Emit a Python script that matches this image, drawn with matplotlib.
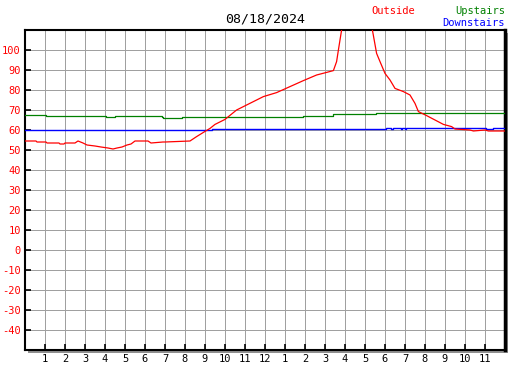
import matplotlib.pyplot as plt
from matplotlib.patches import Rectangle

# hours since midnight, temperature in F
outside_h = [0.0, 0.55, 0.6, 1.05, 1.1, 1.7, 1.75, 1.95, 2.0, 2.5, 2.65, 2.9, 3.1, 3.5, 3.8, 4.15, 4.4, 4.6,
             4.85, 5.1, 5.3, 5.5, 5.6, 6.15, 6.3, 6.9, 7.0, 8.25, 8.58, 8.92, 9.25, 9.5, 10.0, 10.58,
             11.08, 11.92, 12.58, 13.25, 13.92, 14.58, 15.08, 15.42, 15.58, 15.67, 15.83, 16.6, 17.37,
             17.58, 17.75, 18.0, 18.25, 18.5, 18.92, 19.25, 19.5, 19.67, 20.08, 20.5, 20.92, 21.33,
             21.5, 22.25, 22.42, 23.0, 23.17, 23.9, 24.0]
outside_t = [54.5, 54.5, 54.0, 54.0, 53.5, 53.5, 53.0, 53.0, 53.5, 53.5, 54.5, 53.5, 52.5, 52.0, 51.5, 51.0,
             50.5, 51.0, 51.5, 52.5, 53.0, 54.5, 54.5, 54.5, 53.5, 54.0, 54.0, 54.5, 56.7, 58.8, 60.8,
             62.8, 65.3, 70.0, 72.5, 76.7, 78.7, 81.7, 84.7, 87.5, 88.8, 89.7, 94.2, 100.0, 110.0, 140.0,
             110.0, 98.3, 94.2, 88.3, 85.0, 80.8, 79.2, 77.5, 73.3, 69.2, 67.2, 65.0, 62.8, 61.7, 60.5,
             60.0, 59.5, 60.0, 59.5, 59.5, 59.5]

upstairs_h = [0.0, 1.0, 1.05, 4.0, 4.05, 4.45, 4.5, 6.85, 6.9, 7.8, 7.85, 11.1, 11.15, 13.85, 13.9, 15.3,
              15.4, 17.5, 17.55, 24.0]
upstairs_t = [67.3, 67.3, 66.8, 66.8, 66.3, 66.3, 66.8, 66.3, 65.8, 65.8, 66.3, 66.3, 66.7, 66.7, 67.2, 67.2,
              67.8, 67.8, 68.5, 68.5]

downstairs_h = [0.0, 3.8, 3.85, 9.3, 9.35, 18.0, 18.05, 18.3, 18.4, 18.8, 18.85, 19.0, 19.05, 19.2, 19.3,
                23.0, 23.05, 23.3, 23.4, 24.0]
downstairs_t = [60.2, 60.2, 59.8, 59.8, 60.3, 60.3, 60.8, 60.3, 60.8, 60.3, 60.8, 60.3, 60.8, 60.8, 60.8,
                60.8, 60.3, 60.3, 60.8, 60.8]

hour_labels = ['1', '2', '3', '4', '5', '6', '7', '8', '9', '10', '11', '12',
               '1', '2', '3', '4', '5', '6', '7', '8', '9', '10', '11']
y_ticks = list(range(-40, 101, 10))
title = '08/18/2024'

W, H = 527, 370
fig = plt.figure(figsize=(W / 100, H / 100), dpi=100)
mono = 'DejaVu Sans Mono'

# drop shadow behind the frame
shadow = Rectangle(((25 + 3) / W, (370 - 353) / H), 480 / W, 320 / H,
                   transform=fig.transFigure, facecolor='#909090', edgecolor='none', zorder=0)
fig.patches.append(shadow)

ax = fig.add_axes([25 / W, (370 - 350) / H, 480 / W, 320 / H])
ax.set_zorder(2)
ax.set_facecolor('white')
ax.set_xlim(0, 24)
ax.set_ylim(-50, 110)

# 1px crisp grid
for h in range(1, 24):
    ax.axvline(h, color='#a0a0a0', lw=0.72, antialiased=False, zorder=1)
for v in y_ticks:
    ax.axhline(v, color='#a0a0a0', lw=0.72, antialiased=False, zorder=1)

ax.plot(upstairs_h, upstairs_t, color='#008000', lw=0.9, drawstyle='steps-post', zorder=3)
ax.plot(downstairs_h, downstairs_t, color='#0000ff', lw=1.0, drawstyle='steps-post', zorder=3)
ax.plot(outside_h, outside_t, color='#ff0000', lw=0.9, zorder=4)

ax.set_xticks(range(1, 24))
ax.set_xticklabels(hour_labels, fontsize=7.5, family=mono)
ax.set_yticks(y_ticks)
ax.set_yticklabels([str(v) for v in y_ticks], fontsize=7.5, family=mono, color='#ff0000')
ax.tick_params(direction='in', length=4, width=1.2, color='black', pad=3)
ax.tick_params(axis='y', pad=3)
for s in ax.spines.values():
    s.set_linewidth(1.5)
ax.spines['right'].set_linewidth(2.5)

fig.text(265 / W, 1 - 19 / H, title, ha='center', va='center', fontsize=9.5, family=mono)
fig.text(393 / W, 1 - 11 / H, 'Outside', ha='center', va='center', fontsize=7.5, family=mono, color='#ff0000')
fig.text(505 / W, 1 - 11 / H, 'Upstairs', ha='right', va='center', fontsize=7.5, family=mono, color='#008000')
fig.text(505 / W, 1 - 23 / H, 'Downstairs', ha='right', va='center', fontsize=7.5, family=mono, color='#0000ff')

fig.savefig('out.png', dpi=100)
